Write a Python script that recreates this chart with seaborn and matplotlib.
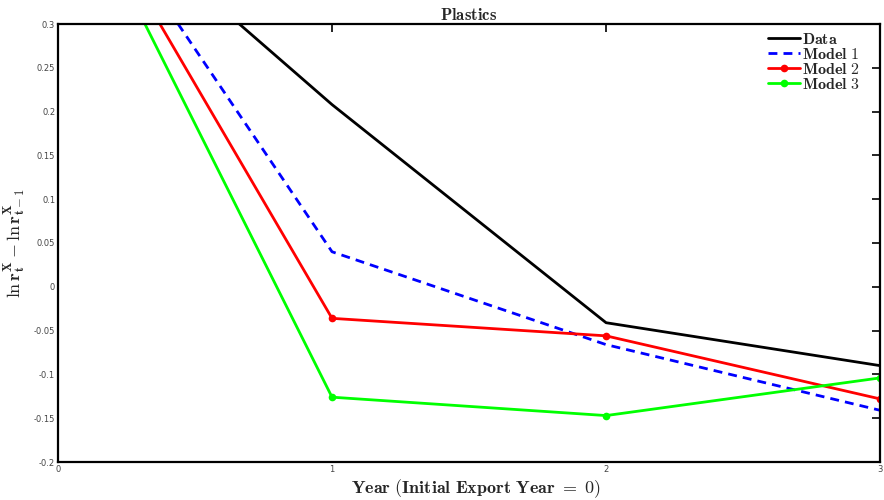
import matplotlib
matplotlib.use("Agg")
import matplotlib.pyplot as plt
import seaborn as sns
import pandas as pd

# Growth of export intensity by years since first export (plastics sector)
years = [0, 1, 2, 3]
data_vals = [0.480, 0.208, -0.041, -0.090]
model1_vals = [0.503, 0.040, -0.066, -0.141]
model2_vals = [0.499, -0.036, -0.056, -0.128]
model3_vals = [0.498, -0.126, -0.147, -0.104]

series_names = ["Data", "Model 1", "Model 2", "Model 3"]
x_ticks = [0, 1, 2, 3]
y_ticks = [-0.2, -0.15, -0.1, -0.05, 0, 0.05, 0.1, 0.15, 0.2, 0.25, 0.3]
y_tick_labels = ["-0.2", "-0.15", "-0.1", "-0.05", "0", "0.05", "0.1", "0.15", "0.2", "0.25", "0.3"]

sns.set_style("white")
plt.rcParams["mathtext.fontset"] = "cm"
plt.rcParams["font.family"] = ["DejaVu Sans"]

frame = pd.DataFrame({
    "year": years * 4,
    "value": data_vals + model1_vals + model2_vals + model3_vals,
    "series": [s for s in series_names for _ in years],
})

fig = plt.figure(figsize=(8.84, 5.0), dpi=100)
ax = fig.add_axes([0.0656, 0.076, 0.930, 0.876])

styles = {
    "Data": dict(color="black", linestyle="-", marker=None),
    "Model 1": dict(color="#0000ff", linestyle=(0, (3.2, 2.2)), marker=None),
    "Model 2": dict(color="#ff0000", linestyle="-", marker="o"),
    "Model 3": dict(color="#00ff00", linestyle="-", marker="o"),
}

for name in series_names:
    sub = frame[frame["series"] == name]
    st = styles[name]
    sns.lineplot(data=sub, x="year", y="value", ax=ax, label=name,
                 color=st["color"], linestyle=st["linestyle"],
                 marker=st["marker"], markersize=5.5, markeredgewidth=0,
                 linewidth=2.0, legend=False)

ax.set_xlim(0, 3)
ax.set_ylim(-0.2, 0.3)
ax.set_xticks(x_ticks)
ax.set_xticklabels([str(t) for t in x_ticks])
ax.set_yticks(y_ticks)
ax.set_yticklabels(y_tick_labels)

ax.tick_params(axis="both", which="both", direction="in", length=6, width=1.2,
               labelsize=6, labelcolor="#444444", color="black",
               top=True, right=True, pad=2)
for sp in ax.spines.values():
    sp.set_visible(True)
    sp.set_color("black")
    sp.set_linewidth(1.6)

ax.set_title(r"$\mathbf{Plastics}$", fontsize=12, pad=3)
ax.set_xlabel(r"$\mathbf{Year\ (Initial\ Export\ Year\ =\ 0)}$", fontsize=13, labelpad=2)
ax.xaxis.set_label_coords(0.508, -0.035)
ax.set_ylabel(r"$\mathbf{\ln r_t^X - \ln r_{t-1}^X}$", fontsize=13, labelpad=4)

handles, labels = ax.get_legend_handles_labels()
leg = ax.legend(handles, [r"$\mathbf{%s}$" % l.replace(" ", r"\ ") for l in labels],
                loc="upper right", frameon=False, fontsize=11.5,
                handlelength=2.0, handletextpad=0.15, labelspacing=0.0,
                borderaxespad=0.1, bbox_to_anchor=(0.985, 1.0))

fig.savefig("out.png", dpi=100, facecolor="white")
